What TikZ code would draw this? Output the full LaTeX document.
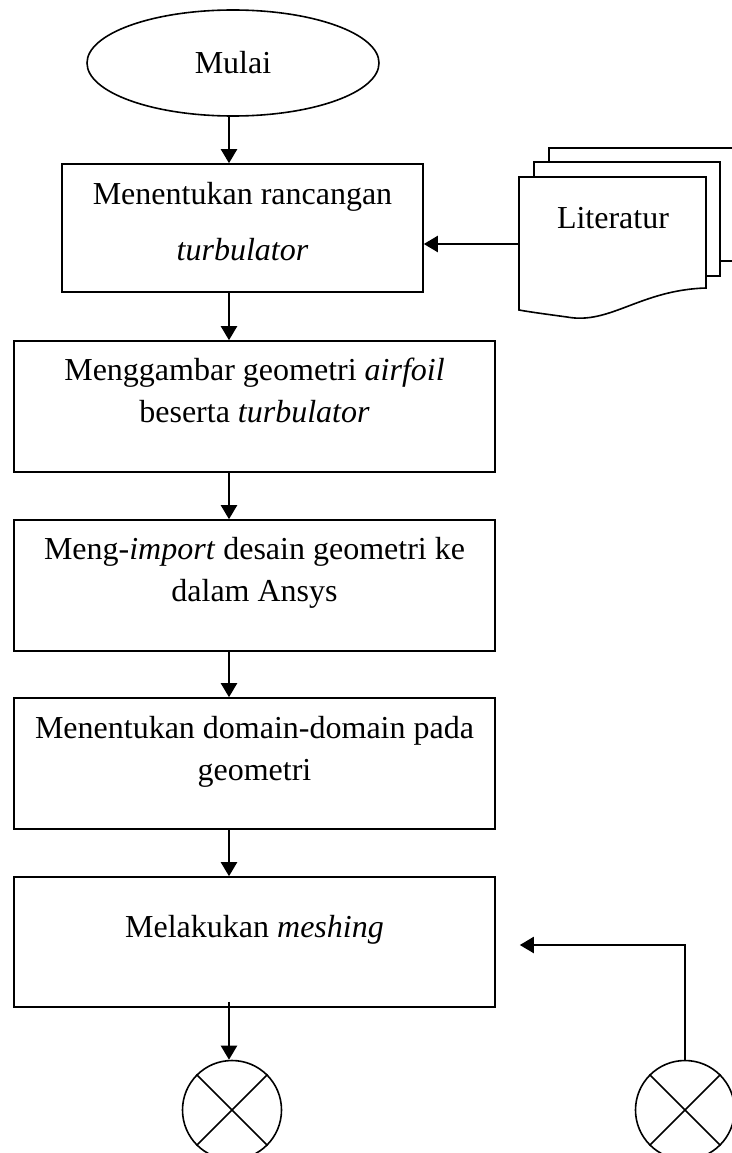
\documentclass[tikz,border=0pt]{standalone}
\usepackage{fontspec}
\setmainfont{Liberation Serif}
\usetikzlibrary{shapes.geometric,arrows.meta}
\tikzset{
  proses/.style={draw, line width=1.6pt, align=center, inner sep=0pt,
    font=\fontsize{32}{41.5}\selectfont, text height=64pt, text depth=33pt},
  panah/.style={line width=2.2pt, -{Triangle[length=14pt,width=16pt]}},
  konektor/.style={draw, circle, line width=1.6pt, minimum size=99pt, inner sep=0pt},
  dokumen/.style={draw, fill=white, line width=1.6pt}
}
\begin{document}
\begin{tikzpicture}[x=1pt,y=-1pt]
\useasboundingbox (0,0) rectangle (731,1153);
\coordinate (sumbu) at (229,0);
% terminal awal
\node[draw, ellipse, line width=1.6pt, minimum width=292pt, minimum height=106pt,
  font=\fontsize{32}{41.5}\selectfont] (mulai) at (233,63) {Mulai};
% langkah-langkah
\node[proses, minimum width=361pt, minimum height=128pt, text height=78pt, text depth=14pt,
  font=\fontsize{32}{56}\selectfont] (b1) at (242.5,228) {Menentukan rancangan\\ \textit{turbulator}};
\node[proses, minimum width=481pt, minimum height=131pt] (b2) at (254.5,406.5)
  {Menggambar geometri \textit{airfoil}\\ beserta \textit{turbulator}};
\node[proses, minimum width=481pt, minimum height=131pt] (b3) at (254.5,585.5)
  {Meng-\textit{import} desain geometri ke\\ dalam Ansys};
\node[proses, minimum width=481pt, minimum height=131pt, text depth=31pt] (b4) at (254.5,763.5)
  {Menentukan domain-domain pada\\ geometri};
\node[proses, minimum width=481pt, minimum height=130pt, text height=22pt, text depth=32pt] (b5) at (254.5,942)
  {Melakukan \textit{meshing}};
% dokumen literatur
\draw[dokumen] (549,148) rectangle (745,261);
\draw[dokumen] (534,162) rectangle (720,276);
\draw[dokumen] (519,177) -- (706,177) -- (706,288)
  .. controls (640,290) and (610,325) .. (567,317)
  .. controls (545,314) and (530,312) .. (519,310) -- cycle;
\node[font=\fontsize{32}{41.5}\selectfont] (lit) at (613,218) {Literatur};
\coordinate (litkiri) at (519,244);
% konektor
\node[konektor] (k1) at (232,1110) {};
\node[konektor] (k2) at (685,1110) {};
\foreach \k in {k1,k2} {
  \draw[line width=1.6pt] (\k.45) -- (\k.225);
  \draw[line width=1.6pt] (\k.135) -- (\k.315);
}
% panah
\draw[panah] (mulai.south -| sumbu) -- (b1.north -| sumbu);
\draw[panah] (b1.south -| sumbu) -- (b2.north -| sumbu);
\draw[panah] (b2.south -| sumbu) -- (b3.north -| sumbu);
\draw[panah] (b3.south -| sumbu) -- (b4.north -| sumbu);
\draw[panah] (b4.south -| sumbu) -- (b5.north -| sumbu);
\draw[panah] ([yshift=6pt]b5.south -| sumbu) -- (k1.north -| sumbu);
\draw[panah] (litkiri) -- (litkiri -| b1.east);
\draw[panah] (k2.north) |- ([xshift=24pt,yshift=-3pt]b5.east);
\end{tikzpicture}
\end{document}
